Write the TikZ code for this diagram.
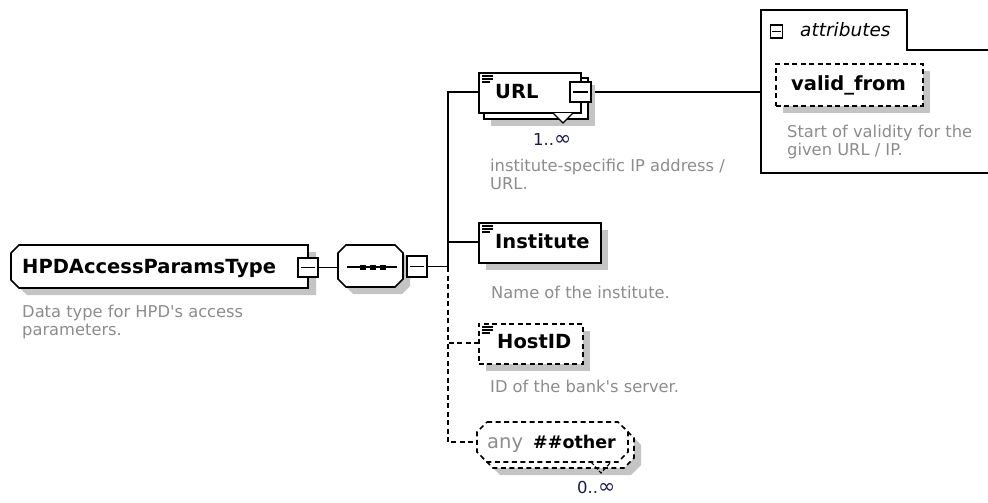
\documentclass[tikz,border=0pt]{standalone}
\usepackage{fontspec}
\setmainfont{DejaVu Sans}
\usetikzlibrary{calc}
\definecolor{descgray}{HTML}{8C8C8C}
\definecolor{shd}{HTML}{C4C4C4}
\definecolor{mult}{HTML}{1A1A50}
\begin{document}
\begin{tikzpicture}[x=1pt,y=-1pt,
  ln/.style={line width=1.6pt, draw=black},
  dln/.style={ln, dash pattern=on 5pt off 3.5pt},
  boxs/.style={ln, fill=white, inner sep=0pt, anchor=north west},
  dboxs/.style={boxs, dash pattern=on 5pt off 3.5pt},
  shadowbox/.style={fill=shd, draw=none, inner sep=0pt, anchor=north west},
  ghost/.style={inner sep=0pt, anchor=north west},
  minusbox/.style={ln, fill=white, inner sep=0pt},
  icon/.style={line width=1.1pt},
  namet/.style={font=\bfseries\fontsize{19.5}{23}\selectfont, inner sep=0pt, anchor=base west},
  desct/.style={font=\fontsize{16.3}{18}\selectfont, text=descgray, inner sep=0pt, anchor=base west},
  multt/.style={font=\fontsize{16.5}{18}\selectfont, text=mult, inner sep=0pt, anchor=base west},
]
\useasboundingbox (0,0) rectangle (988,503);

% ---------- invisible anchor nodes ----------
\node[ghost, minimum width=297pt, minimum height=43pt] (hpd) at (11,245) {};
\node[ghost, minimum width=65pt, minimum height=42pt] (seq) at (338,245) {};
\node[ghost, minimum width=151pt, minimum height=40pt] (any) at (477,422) {};
\node[ghost, minimum width=234pt, minimum height=163pt] (attr) at (761,10) {};
\coordinate (bus) at (448,267);

% ---------- HPDAccessParamsType ----------
\fill[shd, shift={(8,7)}] (19,245) -- (308,245) -- (308,288) -- (19,288) -- (11,280) -- (11,253) -- cycle;
\draw[ln, fill=white] (19,245) -- (308,245) -- (308,288) -- (19,288) -- (11,280) -- (11,253) -- cycle;
\node[namet] (hpdt) at (22,273) {HPDAccessParamsType};
\node[minusbox, minimum width=20pt, minimum height=19pt] (hpdm) at (308,267.5) {};
\draw[ln] ($(hpdm.west)+(4,0)$) -- ($(hpdm.east)+(-4,0)$);
\node[desct] (hpdd1) at (22,317) {Data type for HPD\textquotesingle s access};
\node[desct] (hpdd2) at (22,335) {parameters.};

% ---------- connectors ----------
\draw[ln] (hpdm.east) -- (hpdm.east -| seq.west);
\draw[ln] (seq.east) -- ++(4,0);
\draw[ln] (bus) |- (448,92) -- (478,92);
\draw[ln] (bus) |- (478,242);
\draw[dln] (bus) |- (478,343);
\draw[dln] (bus) |- (any.west);
\draw[ln] (580,92) -- (580,92 -| attr.west);

% ---------- sequence compositor ----------
\fill[shd, shift={(7,7)}] (346,245) -- (395,245) -- (403,253) -- (403,279) -- (395,287) -- (346,287) -- (338,279) -- (338,253) -- cycle;
\draw[ln, fill=white] (346,245) -- (395,245) -- (403,253) -- (403,279) -- (395,287) -- (346,287) -- (338,279) -- (338,253) -- cycle;
\draw[ln] (347,267) -- (397,267);
\fill (360,264.5) rectangle (365.5,270);
\fill (370,264.5) rectangle (375.5,270);
\fill (380,264.5) rectangle (385.5,270);
\node[minusbox, minimum width=20pt, minimum height=21pt] (seqm) at (417,266.5) {};
\draw[ln] ($(seqm.west)+(4,0)$) -- ($(seqm.east)+(-4,0)$);
\draw[ln] (seqm.east) -- (seqm.east -| bus);

% ---------- URL ----------
\node[shadowbox, minimum width=104pt, minimum height=41pt] (urlsh) at (491,85) {};
\node[boxs, minimum width=104pt, minimum height=41pt] (urlb) at (483,77) {};
\node[boxs, minimum width=102pt, minimum height=40pt] (url) at (478,72) {};
\draw[icon] (482,76) -- (493,76) (482,79) -- (493,79) (482,82) -- (490,82);
\node[namet] (urlt) at (495,99) {URL};
\node[minusbox, minimum width=21pt, minimum height=20pt] (urlm) at (580.5,92) {};
\draw[ln] ($(urlm.west)+(4,0)$) -- ($(urlm.east)+(-4,0)$);
\fill[white] (553,113) -- (563,123) -- (573,113) -- cycle;
\draw[icon] (553,113) -- (563,123) -- (573,113);
\node[multt] (urlmult) at (533,145) {1..\scalebox{1.25}{∞}};
\node[desct] (urld1) at (490,171) {institute-specific IP address /};
\node[desct] (urld2) at (490,189) {URL.};

% ---------- attributes ----------
\draw[ln] (995,50) -- (907,50) -- (907,10) -- (761,10) -- (761,173) -- (995,173);
\node[draw, line width=1.2pt, fill=white, inner sep=0pt, minimum width=12pt, minimum height=13pt] (attrm) at (776.5,31.5) {};
\draw[line width=1.2pt] ($(attrm.west)+(2.5,0)$) -- ($(attrm.east)+(-2.5,0)$);
\node[font=\itshape\fontsize{18.5}{22}\selectfont, inner sep=0pt, anchor=base west] (attrt) at (800,37) {attributes};
\node[shadowbox, minimum width=147pt, minimum height=42pt] (vfsh) at (783,71) {};
\node[dboxs, minimum width=147pt, minimum height=42pt] (vf) at (775,63) {};
\node[namet, anchor=base] (vft) at (848.5,90) {valid\_from};
\node[desct] (vfd1) at (787,137) {Start of validity for the};
\node[desct] (vfd2) at (787,155) {given URL / IP.};

% ---------- Institute ----------
\node[shadowbox, minimum width=122pt, minimum height=40pt] (instsh) at (486,230) {};
\node[boxs, minimum width=122pt, minimum height=40pt] (inst) at (478,222) {};
\draw[icon] (482,226) -- (493,226) (482,229) -- (493,229) (482,232) -- (490,232);
\node[namet] (instt) at (495,248) {Institute};
\node[desct] (instd) at (491,298) {Name of the institute.};

% ---------- HostID ----------
\node[shadowbox, minimum width=104pt, minimum height=40pt] (hostsh) at (486,331) {};
\node[dboxs, minimum width=104pt, minimum height=40pt] (host) at (478,323) {};
\draw[icon] (482,327) -- (493,327) (482,330) -- (493,330) (482,333) -- (490,333);
\node[namet] (hostt) at (497,348) {HostID};
\node[desct] (hostd) at (490,392) {ID of the bank\textquotesingle s server.};

% ---------- any ##other ----------
\fill[shd, shift={(13,13)}] (487,422) -- (618,422) -- (628,432) -- (628,452) -- (618,462) -- (487,462) -- (477,452) -- (477,432) -- cycle;
\draw[dln, fill=white, shift={(6,6)}] (487,422) -- (618,422) -- (628,432) -- (628,452) -- (618,462) -- (487,462) -- (477,452) -- (477,432) -- cycle;
\draw[dln, fill=white] (487,422) -- (618,422) -- (628,432) -- (628,452) -- (618,462) -- (487,462) -- (477,452) -- (477,432) -- cycle;
\draw[icon, dash pattern=on 4pt off 2pt] (591,462) -- (601,473) -- (611,462);
\node[font=\fontsize{19.5}{23}\selectfont, text=descgray, inner sep=0pt, anchor=base west] (anyt) at (487,448) {any};
\node[namet, font=\bfseries\fontsize{17.5}{21}\selectfont] (anyo) at (533,448) {\#\#other};
\node[multt] (anymult) at (577,493) {0..\scalebox{1.25}{∞}};
\end{tikzpicture}
\end{document}
